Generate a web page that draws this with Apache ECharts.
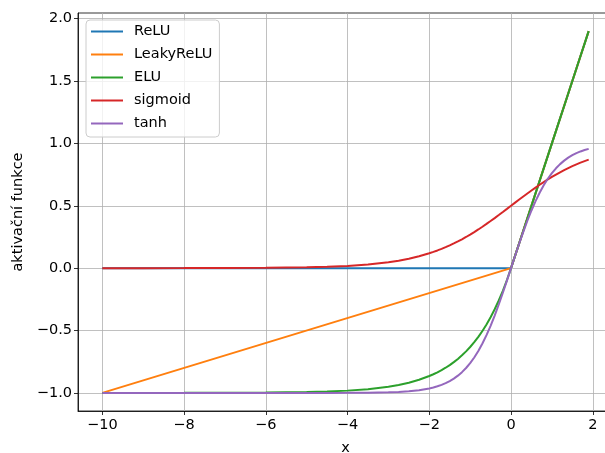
<!DOCTYPE html>
<html>
<head>
<meta charset="utf-8">
<script src="https://cdn.jsdelivr.net/npm/echarts@6/dist/echarts.min.js"></script>
<style>
  html, body { margin: 0; padding: 0; background: #fff; overflow: hidden; }
  #chart { width: 613px; height: 453px; }
</style>
</head>
<body>
<div id="chart"></div>
<script>
// hodnoty
const lineX = [-10, 0, 1.9];
const relu = [0, 0, 1.9];
const leaky = [-1, 0, 1.9];

const curveX = [-10, -9, -8, -7, -6, -5, -4.5, -4, -3.5, -3, -2.75, -2.5, -2.25,
  -2, -1.9, -1.8, -1.7, -1.6, -1.5, -1.4, -1.3, -1.2, -1.1, -1, -0.9, -0.8, -0.7, -0.6, -0.5, -0.4, -0.3, -0.2, -0.1,
  0, 0.1, 0.2, 0.3, 0.4, 0.5, 0.6, 0.7, 0.8, 0.9, 1, 1.1, 1.2, 1.3, 1.4, 1.5, 1.6, 1.7, 1.8, 1.9];
const elu = [-1, -0.9999, -0.9997, -0.9991, -0.9975, -0.9933, -0.9889, -0.9817, -0.9698, -0.9502, -0.9361, -0.9179, -0.8946,
  -0.8647, -0.8504, -0.8347, -0.8173, -0.7981, -0.7769, -0.7534, -0.7275, -0.6988, -0.6671, -0.6321, -0.5934, -0.5507, -0.5034, -0.4512, -0.3935, -0.3297, -0.2592, -0.1813, -0.0952,
  0, 0.1, 0.2, 0.3, 0.4, 0.5, 0.6, 0.7, 0.8, 0.9, 1, 1.1, 1.2, 1.3, 1.4, 1.5, 1.6, 1.7, 1.8, 1.9];
const sigmoid = [0, 0.0001, 0.0003, 0.0009, 0.0025, 0.0067, 0.011, 0.018, 0.0293, 0.0474, 0.0601, 0.0759, 0.0953,
  0.1192, 0.1301, 0.1419, 0.1545, 0.168, 0.1824, 0.1978, 0.2142, 0.2315, 0.2497, 0.2689, 0.2891, 0.31, 0.3318, 0.3543, 0.3775, 0.4013, 0.4256, 0.4502, 0.475,
  0.5, 0.525, 0.5498, 0.5744, 0.5987, 0.6225, 0.6457, 0.6682, 0.69, 0.7109, 0.7311, 0.7503, 0.7685, 0.7858, 0.8022, 0.8176, 0.832, 0.8455, 0.8581, 0.8699];
const tanh = [-1, -1, -1, -1, -1, -0.9999, -0.9998, -0.9993, -0.9982, -0.9951, -0.9918, -0.9866, -0.978,
  -0.964, -0.9562, -0.9468, -0.9354, -0.9217, -0.9051, -0.8854, -0.8617, -0.8337, -0.8005, -0.7616, -0.7163, -0.664, -0.6044, -0.537, -0.4621, -0.3799, -0.2913, -0.1974, -0.0997,
  0, 0.0997, 0.1974, 0.2913, 0.3799, 0.4621, 0.537, 0.6044, 0.664, 0.7163, 0.7616, 0.8005, 0.8337, 0.8617, 0.8854, 0.9051, 0.9217, 0.9354, 0.9468, 0.9562];

const xTicks = [-10, -8, -6, -4, -2, 0, 2];
const yTicks = [-1, -0.5, 0, 0.5, 1, 1.5, 2];

const names = ['ReLU', 'LeakyReLU', 'ELU', 'sigmoid', 'tanh'];
const colors = ['#1f77b4', '#ff7f0e', '#2ca02c', '#d62728', '#9467bd'];
const seriesX = [lineX, lineX, curveX, curveX, curveX];
const values = [relu, leaky, elu, sigmoid, tanh];

const minus = s => String(s).replace('-', '\u2212');
const font = 'DejaVu Sans';
const fs = 14.5;

const chart = echarts.init(document.getElementById('chart'));
const option = {
  animation: false,
  grid: {
    left: 78, right: 0, top: 13, bottom: 42,
    outerBoundsMode: 'none', containLabel: false,
    show: true, borderColor: '#000', borderWidth: 0.8, backgroundColor: 'transparent'
  },
  legend: {
    orient: 'vertical',
    left: 86, top: 20,
    data: names,
    icon: 'rect',
    itemWidth: 32, itemHeight: 2, itemGap: 8,
    padding: [4, 7, 6, 5],
    backgroundColor: 'rgba(255,255,255,0.8)',
    borderColor: '#cccccc', borderWidth: 1, borderRadius: 4,
    textStyle: { fontFamily: font, fontSize: fs, lineHeight: 14, color: '#000', padding: [0, 0, 0, 6] }
  },
  xAxis: {
    type: 'value',
    min: -10.595, max: 2.495,
    name: 'x', nameLocation: 'middle', nameGap: 30,
    nameTextStyle: { fontFamily: font, fontSize: fs, color: '#000' },
    axisLine: { onZero: false, lineStyle: { color: '#000', width: 0.8 } },
    axisTick: { show: true, length: 4, lineStyle: { color: '#000', width: 0.8 }, customValues: xTicks },
    axisLabel: {
      customValues: xTicks, margin: 7,
      fontFamily: font, fontSize: fs, color: '#000',
      formatter: v => minus(v)
    },
    splitLine: { show: true, lineStyle: { color: '#b0b0b0', width: 0.8 } }
  },
  yAxis: {
    type: 'value',
    min: -1.145, max: 2.045,
    name: 'aktivační funkce', nameLocation: 'middle', nameGap: 52,
    nameTextStyle: { fontFamily: font, fontSize: fs, color: '#000' },
    axisLine: { show: true, onZero: false, lineStyle: { color: '#000', width: 0.8 } },
    axisTick: { show: true, length: 4, lineStyle: { color: '#000', width: 0.8 }, customValues: yTicks },
    axisLabel: {
      customValues: yTicks, margin: 6,
      fontFamily: font, fontSize: fs, color: '#000',
      formatter: v => minus(v.toFixed(1))
    },
    splitLine: { show: true, lineStyle: { color: '#b0b0b0', width: 0.8 } }
  },
  series: names.map((n, i) => ({
    name: n,
    type: 'line',
    data: seriesX[i].map((x, j) => [x, values[i][j]]),
    symbol: 'none',
    color: colors[i],
    itemStyle: { color: colors[i] },
    lineStyle: { width: 2, color: colors[i] }
  }))
};
chart.setOption(option);
</script>
</body>
</html>
